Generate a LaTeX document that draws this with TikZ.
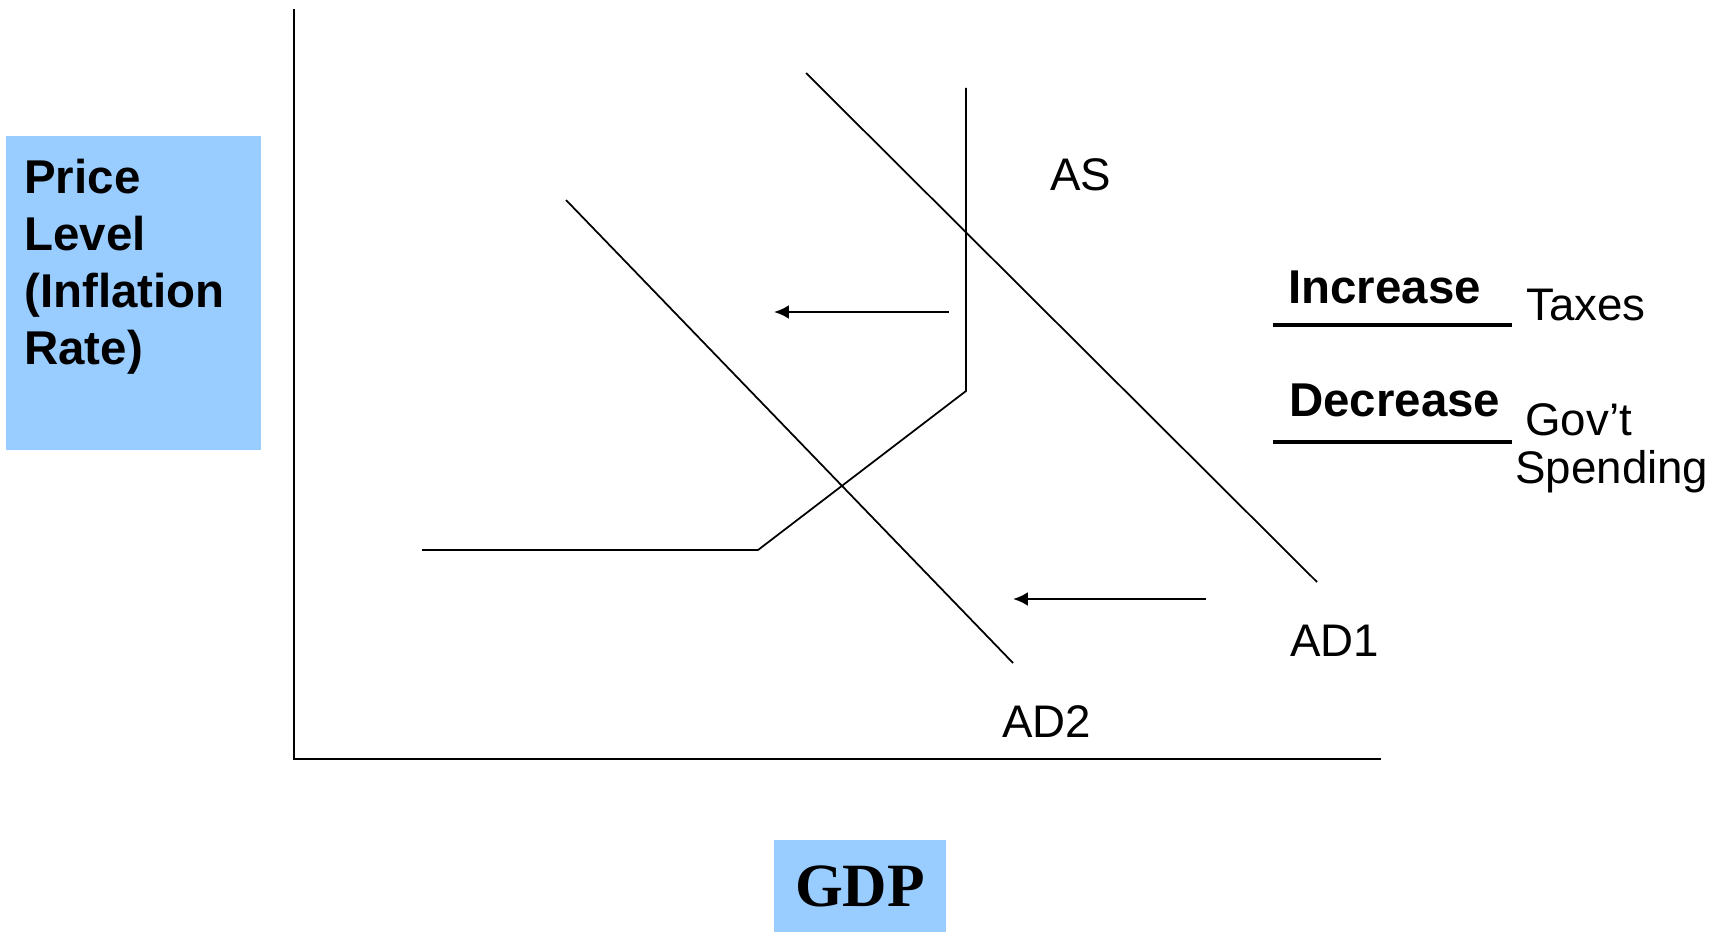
\documentclass[tikz,border=0pt]{standalone}
\usepackage{fontspec}
\setmainfont{Liberation Sans}
\newfontfamily\gdpfont{Liberation Serif}
\usetikzlibrary{arrows.meta}
\definecolor{panelblue}{HTML}{99CCFF}
\begin{document}
\begin{tikzpicture}[x=0.02cm, y=-0.02cm, >={Latex[length=8.5pt,width=8pt]},
	curve/.style={line width=1pt},
	shift arrow/.style={->, line width=1.5pt},
	lbl/.style={font=\fontsize{26}{31}\selectfont, inner sep=0pt},
	bold lbl/.style={font=\fontsize{27}{32.4}\selectfont\bfseries, inner sep=0pt}]
	\useasboundingbox (0,0) rectangle (1733,932);
	% axes
	\draw[curve] (294,9) -- (294,759) -- (1381,759);
	\node[fill=panelblue, inner sep=0pt, anchor=north west, minimum width=5.1cm, minimum height=6.28cm] (pricebox) at (6,136) {};
	\node[bold lbl, align=left, anchor=north west] (pricelabel) at (24,159) {Price\\Level\\(Inflation\\Rate)};
	\node[fill=panelblue, inner sep=0pt, minimum width=3.46cm, minimum height=1.84cm, font=\gdpfont\bfseries\fontsize{35}{42}\selectfont] (gdp) at (860,886) {GDP};
	% AD curves
	\draw[curve] (806,73) -- (1317,582);
	\draw[curve] (566,200) -- (1013,663);
	% AS curve
	\draw[curve] (422,550) -- (758,550) -- (966,391) -- (966,88);
	\node[lbl, anchor=base west] (as) at (1050,191) {AS};
	\node[lbl, anchor=base west] (adone) at (1290,656) {AD1};
	\node[lbl, anchor=base west] (adtwo) at (1002,737) {AD2};
	% shifts
	\coordinate (upperstart) at (949,312);
	\coordinate (upperend) at (774,312);
	\coordinate (lowerstart) at (1206,599);
	\coordinate (lowerend) at (1013,599);
	\draw[shift arrow] (upperstart) -- (upperend);
	\draw[shift arrow] (lowerstart) -- (lowerend);
	% policy
	\node[bold lbl, anchor=base west] (increase) at (1288,304) {Increase};
	\node[lbl, anchor=base west] (taxes) at (1526,320) {Taxes};
	\draw[line width=2.2pt] (1273,325) -- (1512,325);
	\node[bold lbl, anchor=base west] (decrease) at (1289,416) {Decrease};
	\node[lbl, anchor=base west] (govt) at (1525,435) {Gov’t};
	\node[lbl, anchor=base west] (spending) at (1515,483) {Spending};
	\draw[line width=2.4pt] (1273,442) -- (1512,442);
\end{tikzpicture}
\end{document}
